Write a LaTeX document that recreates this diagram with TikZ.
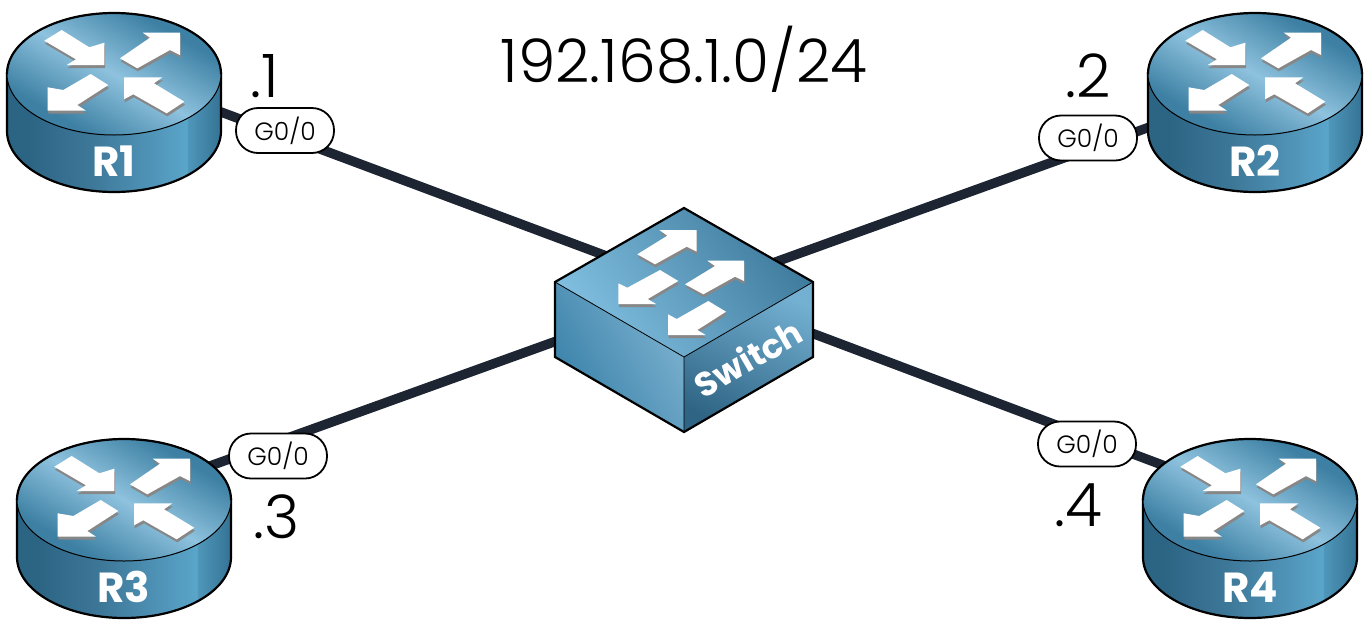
\documentclass[tikz,border=0pt]{standalone}
\usepackage{fontspec}
\setmainfont{Poppins}
\newfontface\poplight{Poppins Light}
\usepackage{tikz}
\definecolor{linkdark}{RGB}{30,37,50}
\definecolor{arrowgray}{RGB}{135,135,135}
\definecolor{topdark}{RGB}{61,128,163}
\definecolor{toplight}{RGB}{142,194,222}
\definecolor{sidedark}{RGB}{44,100,132}
\definecolor{sidemid}{RGB}{62,120,153}
\definecolor{sidelight}{RGB}{90,165,202}
\definecolor{sideedge}{RGB}{78,150,186}
\definecolor{sideend}{RGB}{53,115,148}
\pgfdeclarehorizontalshading{routertop}{100bp}{color(0bp)=(topdark); color(29bp)=(topdark); color(50bp)=(toplight); color(71bp)=(topdark); color(100bp)=(topdark)}
\pgfdeclarehorizontalshading{routerside}{100bp}{color(0bp)=(sidedark); color(30bp)=(sidedark); color(45bp)=(sidemid); color(67bp)=(sidelight); color(67.3bp)=(sideedge); color(75bp)=(sideend); color(100bp)=(sideend)}
\tikzset{
  link/.style={draw=linkdark,line width=9.5pt},
  pill/.style={draw=black,fill=white,line width=1.8pt,rounded corners=22pt,minimum width=98pt,minimum height=45pt,inner sep=0pt,font=\poplight\fontsize{25}{25}\selectfont},
  addr/.style={inner sep=0pt,anchor=base,font=\poplight\fontsize{60}{60}\selectfont},
  devname/.style={inner sep=0pt,text=white,font=\fontsize{42}{42}\selectfont\bfseries},
}
\newcommand{\drawarrow}[1]{\fill[arrowgray,shift={(.7,3)}] #1; \fill[white] #1;}
\newcommand{\drawrouter}[3]{
  \begin{scope}[shift={(#1)}]
    \shade[shading=routerside,draw=black,line width=2.2pt] (-107,0)--(-107,57) arc[start angle=180,end angle=0,x radius=107,y radius=61]--(107,0)--cycle;
    \shade[shading=routertop,shading angle=60,draw=black,line width=1pt] (0,0) ellipse[x radius=107,y radius=61];
    \draw[line width=2.2pt] (-107,0) arc[start angle=180,end angle=360,x radius=107,y radius=61];
    \drawarrow{(-69.7,-33.3)--(-52.3,-44)--(-24.7,-26.7)--(-9.7,-31.3)--(-9.7,-9)--(-47.3,-9)--(-38,-14.7)--cycle}
    \drawarrow{(6,-15.7)--(23.3,-5.7)--(56,-24)--(66,-19)--(66,-41.3)--(28.7,-41.3)--(36,-36.3)--cycle}
    \drawarrow{(-5.7,11)--(-23.3,0)--(-50.7,16)--(-66.3,13.3)--(-66.3,36.7)--(-28,36.7)--(-36.7,31)--cycle}
    \drawarrow{(70.3,27.7)--(52.7,39.3)--(19.3,20.3)--(10,25.3)--(10,3.3)--(48.3,3.3)--(40,9.3)--cycle}
    \node[devname] at (0,87) {#3};
  \end{scope}
}
\newcommand{\drawswitch}[2]{
  \begin{scope}[shift={(#1)}]
    \shade[top color={rgb,255:red,62;green,122;blue,156},bottom color={rgb,255:red,130;green,192;blue,226},shading angle=-55] (0,-74)--(129,0)--(0,75)--(-129,0)--cycle;
    \shade[top color={rgb,255:red,125;green,178;blue,208},bottom color={rgb,255:red,56;green,128;blue,168},shading angle=-60] (-129,0)--(0,75)--(0,150)--(-129,75)--cycle;
    \shade[top color={rgb,255:red,115;green,176;blue,210},bottom color={rgb,255:red,47;green,100;blue,132},shading angle=-25] (129,0)--(0,75)--(0,150)--(129,75)--cycle;
    \draw[line width=.8pt] (-129,0)--(0,75)--(129,0) (0,75)--(0,150);
    \draw[line width=2.2pt,line join=miter] (0,-74)--(129,0)--(129,75)--(0,150)--(-129,75)--(-129,0)--cycle;
    \drawarrow{(-46.7,-27.7)--(-29,-17.7)--(2.7,-35.3)--(12.7,-30.3)--(12.7,-52)--(-24.7,-52)--(-16.7,-46.3)--cycle}
    \drawarrow{(1,2.3)--(19.3,12.3)--(51,-5.3)--(60,-1)--(60,-21.3)--(23.3,-21.3)--(31,-16)--cycle}
    \drawarrow{(-5.7,-1)--(-24,-12)--(-56.7,5.7)--(-65.7,1.3)--(-65.7,22)--(-28,22)--(-36.3,17)--cycle}
    \drawarrow{(42,29.7)--(24.3,19)--(-7.3,37)--(-16,32.3)--(-16,53)--(21.7,53)--(13.3,48)--cycle}
    \node[devname,rotate=30,font=\fontsize{34}{34}\selectfont\bfseries] at (64,76) {#2};
  \end{scope}
}
\begin{document}
\begin{tikzpicture}[x=1pt,y=-1pt]
\useasboundingbox (0,0) rectangle (1370,638);
\coordinate (R1) at (114,74);
\coordinate (R2) at (1255,74);
\coordinate (R3) at (124,500);
\coordinate (R4) at (1250,500);
\coordinate (SW) at (684,282);
\coordinate (R1port) at (114,72);
\coordinate (R2port) at (1255,89);
\coordinate (R3port) at (124,497);
\coordinate (R4port) at (1250,498);
\coordinate (SWa) at (684,285);
\coordinate (SWb) at (684,295);
\draw[link] (R1port)--(SWa);
\draw[link] (R2port)--(SWb);
\draw[link] (R3port)--(SWb);
\draw[link] (R4port)--(SWa);
\drawrouter{R1}{R1}{R1}
\drawrouter{R2}{R2}{R2}
\drawrouter{R3}{R3}{R3}
\drawrouter{R4}{R4}{R4}
\drawswitch{SW}{Switch}
\node[pill] (g1) at (285,130.5) {G0/0};
\node[pill] (g2) at (1088,138) {G0/0};
\node[pill] (g3) at (278,456) {G0/0};
\node[pill] (g4) at (1087,444) {G0/0};
\node[addr] (a1) at (264.5,97) {.1};
\node[addr] (a2) at (1088,97) {.2};
\node[addr] (a3) at (277,538) {.3};
\node[addr] (a4) at (1078,526) {.4};
\node[addr] (net) at (684,82) {192.168.1.0/24};
\end{tikzpicture}
\end{document}
